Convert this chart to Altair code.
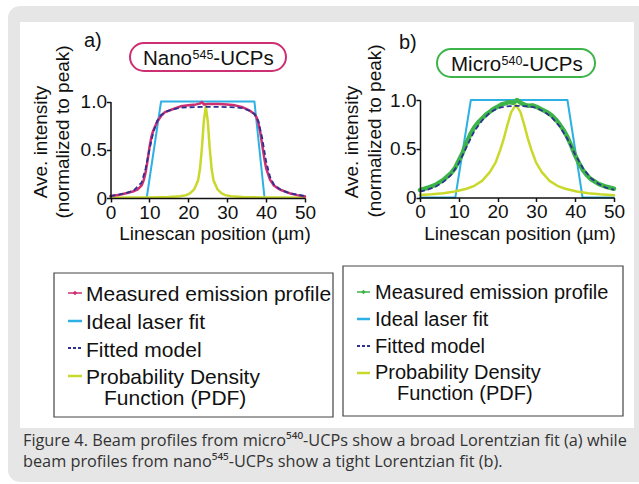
import altair as alt
import pandas as pd

# ---------------- data: panel a (Nano545-UCPs) ----------------
a_meas_x = [0, 2, 4, 6, 7, 8, 8.5, 9, 9.5, 10, 10.5, 11, 12, 13, 14, 16, 18, 20, 22, 23,
            23.5, 24, 25, 26, 28, 30, 32, 34, 35, 36, 37, 37.5, 38, 38.5, 39, 39.5, 40, 41, 42, 43,
            44, 46, 48, 50]
a_meas_y = [0.02, 0.03, 0.05, 0.07, 0.09, 0.13, 0.18, 0.26, 0.38, 0.52, 0.63, 0.70, 0.79, 0.85, 0.89, 0.92, 0.95, 0.96, 0.97, 0.98,
            0.995, 0.97, 0.975, 0.975, 0.975, 0.97, 0.96, 0.94, 0.92, 0.90, 0.87, 0.84, 0.78, 0.68, 0.55, 0.42, 0.31, 0.19, 0.13, 0.10,
            0.08, 0.05, 0.03, 0.015]
a_laser_x = [0, 9.3, 13, 37, 39.6, 50]
a_laser_y = [0, 0, 1, 1, 0, 0]
a_fit_x = [0, 4, 6, 8, 9, 10, 11, 12, 13, 14, 16, 18, 20, 24, 28, 32, 34, 36, 37, 38, 39, 40, 41, 42, 44, 46, 50]
a_fit_y = [0.02, 0.05, 0.08, 0.16, 0.30, 0.50, 0.68, 0.80, 0.86, 0.89, 0.92, 0.935, 0.94, 0.945, 0.945, 0.94, 0.93, 0.90, 0.87, 0.80,
           0.62, 0.38, 0.22, 0.14, 0.08, 0.05, 0.02]
a_pdf_x = [0, 5, 10, 15, 18, 19.5, 20.5, 21.5, 22.5, 23, 23.5, 24, 24.5, 25, 25.5, 26, 26.5, 27.5, 28.5, 29.5, 31, 34, 39, 44, 50]
a_pdf_y = [0.003, 0.004, 0.006, 0.01, 0.018, 0.03, 0.05, 0.09, 0.18, 0.30, 0.52, 0.80, 0.95, 0.80, 0.52, 0.30, 0.18, 0.09, 0.05, 0.03,
           0.018, 0.01, 0.006, 0.004, 0.003]

# ---------------- data: panel b (Micro540-UCPs) ----------------
b_meas_x = [0, 2, 4, 6, 8, 9, 10, 11, 12, 13, 14, 15, 16, 17, 18, 19, 20, 21, 22, 23,
            24, 25, 26, 27, 28, 29, 30, 31, 32, 33, 34, 35, 36, 37, 38, 39, 40, 41, 42, 43,
            44, 46, 48, 50]
b_meas_y = [0.075, 0.10, 0.13, 0.18, 0.25, 0.30, 0.38, 0.46, 0.56, 0.65, 0.72, 0.77, 0.81, 0.85, 0.88, 0.91, 0.93, 0.955, 0.965, 0.98,
            0.97, 1.0, 0.97, 0.95, 0.94, 0.945, 0.93, 0.91, 0.89, 0.87, 0.84, 0.80, 0.75, 0.69, 0.62, 0.53, 0.43, 0.35, 0.28, 0.23,
            0.19, 0.14, 0.11, 0.09]
b_laser_x = [0, 9.1, 13.1, 38, 41.9, 50]
b_laser_y = [0, 0, 1, 1, 0, 0]
b_fit_x = [0, 2, 4, 6, 8, 10, 12, 14, 16, 18, 20, 22, 25, 28, 30, 32, 34, 36, 38, 40, 42, 44, 46, 48, 50]
b_fit_y = [0.06, 0.08, 0.11, 0.16, 0.23, 0.35, 0.52, 0.68, 0.79, 0.87, 0.915, 0.935, 0.94, 0.935, 0.92, 0.88, 0.82, 0.73, 0.60, 0.44,
           0.30, 0.20, 0.14, 0.10, 0.08]
b_pdf_x = [0, 3, 6, 9, 12, 14, 16, 18, 19.5, 20.7, 21.5, 22.5, 23.5, 24.7, 25.9, 26.9, 27.9, 28.7, 29.9, 31.4,
           33.4, 35.4, 37.4, 40.4, 43.4, 46.4, 50]
b_pdf_y = [0.025, 0.033, 0.044, 0.061, 0.09, 0.12, 0.17, 0.26, 0.36, 0.49, 0.59, 0.74, 0.875, 0.95, 0.875, 0.74, 0.59, 0.49, 0.36, 0.26,
           0.17, 0.12, 0.09, 0.061, 0.044, 0.033, 0.024]

x_ticks = [0, 10, 20, 30, 40, 50]
y_ticks = [0, 0.5, 1.0]
legend_labels = ["Measured emission profile", "Ideal laser fit", "Fitted model", "Probability Density", "Function (PDF)"]
title_a = ["Nano", "545", "-UCPs"]
title_b = ["Micro", "540", "-UCPs"]
panel_a_tag = "a)"
panel_b_tag = "b)"
y_title = ["Ave. intensity", "(normalized to peak)"]
x_title = "Linescan position (\u00b5m)"
caption = ["Figure 4. Beam profiles from micro\u2075\u2074\u2070-UCPs show a broad Lorentzian fit (a) while",
           "beam profiles from nano\u2075\u2074\u2075-UCPs show a tight Lorentzian fit (b)."]

# ---------------- styling ----------------
W, H = 639, 484
FONT = "Liberation Sans"
MAGENTA = "#cc2f72"
GREEN = "#3cb44a"
CYAN = "#2db0e3"
NAVY = "#2e3192"
YELLOW = "#c9d92c"
GREY = "#e6e6e6"


def one():
    return pd.DataFrame({"k": [0]})


def rect(x, x2, y, y2, **kw):
    return alt.Chart(one()).mark_rect(**kw).encode(
        x=alt.value(x), x2=alt.value(x2), y=alt.value(y), y2=alt.value(y2))


def text(s, x, y, **kw):
    return alt.Chart(one()).mark_text(**kw).encode(
        x=alt.value(x), y=alt.value(y), text=alt.value(s))


def seg(x, x2, y, color, width=2.5, dash=None):
    kw = dict(color=color, strokeWidth=width)
    if dash:
        kw["strokeDash"] = dash
    return alt.Chart(one()).mark_rule(**kw).encode(x=alt.value(x), x2=alt.value(x2), y=alt.value(y))


def panel(series, xrange, yrange):
    xs = alt.Scale(domain=[0, 50], range=xrange, nice=False, zero=False)
    ys = alt.Scale(domain=[0, 1], range=yrange, nice=False, zero=False)
    xaxis = alt.Axis(orient="bottom", offset=yrange[0] - H, values=x_ticks, title=None, grid=False,
                     labelFont=FONT, labelFontSize=19, labelColor="#111", domainColor="#111",
                     domainWidth=1.5, tickColor="#111", tickWidth=1.5, tickSize=4, labelPadding=1,
                     labelFlush=False, labelOverlap=False, zindex=1)
    yaxis = alt.Axis(orient="left", offset=-xrange[0], values=y_ticks, title=None, grid=False,
                     labelExpr="datum.value == 0 ? '0' : format(datum.value, '.1f')",
                     labelFont=FONT, labelFontSize=19, labelColor="#111", domainColor="#111",
                     domainWidth=1.5, tickColor="#111", tickWidth=1.5, tickSize=4, labelPadding=0,
                     labelFlush=False, labelOverlap=False, zindex=1)
    layers = []
    for xs_, ys_, color, width, dash in series:
        df = pd.DataFrame({"x": xs_, "y": ys_})
        kw = dict(color=color, strokeWidth=width, strokeJoin="round", strokeCap="round")
        if dash:
            kw["strokeDash"] = dash
            kw["strokeCap"] = "butt"
        layers.append(alt.Chart(df).mark_line(**kw).encode(
            x=alt.X("x:Q", scale=xs, axis=xaxis),
            y=alt.Y("y:Q", scale=ys, axis=yaxis),
            order="x:Q"))
    return alt.layer(*layers)


panel_a = panel([
    (a_laser_x, a_laser_y, CYAN, 2, None),
    (a_pdf_x, a_pdf_y, YELLOW, 2.5, None),
    (a_meas_x, a_meas_y, MAGENTA, 2.5, None),
    (a_fit_x, a_fit_y, NAVY, 1.8, [5, 3]),
], [110.5, 305], [198, 101.5])

panel_b = panel([
    (b_laser_x, b_laser_y, CYAN, 2, None),
    (b_pdf_x, b_pdf_y, YELLOW, 2.5, None),
    (b_meas_x, b_meas_y, GREEN, 4.5, None),
    (b_fit_x, b_fit_y, NAVY, 1.8, [5, 3]),
], [420, 614], [197.5, 100])


def pill_title(parts, x0, base, w_main, w_sup):
    return [
        text(parts[0], x0, base, font=FONT, fontSize=20.5, color="#111", align="left", baseline="alphabetic"),
        text(parts[1], x0 + w_main, base - 6.5, font=FONT, fontSize=12.5, color="#111", align="left",
             baseline="alphabetic"),
        text(parts[2], x0 + w_main + w_sup, base, font=FONT, fontSize=20.5, color="#111", align="left",
             baseline="alphabetic"),
    ]


deco = [
    rect(8, W + 30, 6, 482, fill=GREY, cornerRadius=12),
    rect(20, 634, 22, 428, fill="white"),
    # title pills
    rect(130, 286, 43, 71, fill="white", stroke=MAGENTA, strokeWidth=2, cornerRadius=14),
    rect(437, 595, 49, 77, fill="white", stroke=GREEN, strokeWidth=2, cornerRadius=14),
    *pill_title(title_a, 143, 65, 49.5, 20.8),
    *pill_title(title_b, 451, 71, 50.5, 20.8),
    text(panel_a_tag, 84, 47, font=FONT, fontSize=20, color="#111", align="left", baseline="alphabetic"),
    text(panel_b_tag, 399, 49, font=FONT, fontSize=20, color="#111", align="left", baseline="alphabetic"),
    # axis titles
    text(y_title[0], 41, 142, font=FONT, fontSize=19, color="#111", angle=270, align="center", baseline="middle"),
    text(y_title[1], 63, 132, font=FONT, fontSize=19, color="#111", angle=270, align="center", baseline="middle"),
    text(y_title[0], 352, 142, font=FONT, fontSize=19, color="#111", angle=270, align="center", baseline="middle"),
    text(y_title[1], 375, 131, font=FONT, fontSize=19, color="#111", angle=270, align="center", baseline="middle"),
    text(x_title, 215, 240, font=FONT, fontSize=19, color="#111", align="center", baseline="alphabetic"),
    text(x_title, 520, 240, font=FONT, fontSize=19, color="#111", align="center", baseline="alphabetic"),
    # legend boxes
    rect(54, 333, 273, 417, fill="white", stroke="#444", strokeWidth=1.2),
    rect(343, 623, 266, 416, fill="white", stroke="#444", strokeWidth=1.2),
    # caption
    text(caption[0], 23, 446, font="Open Sans", fontSize=16.3, color="#333", align="left", baseline="alphabetic"),
    text(caption[1], 23, 467, font="Open Sans", fontSize=16.3, color="#333", align="left", baseline="alphabetic"),
]

# legend contents
leg = []
for (tx, fs, sx0, sx1, base, sym_y, x5, meas_color) in [
        (86, 21, 68, 82, [301, 329, 356.5, 384, 405], [293, 321, 348, 376], 104, MAGENTA),
        (375, 20, 357, 370, [299, 326, 353, 379, 400], [292, 319, 346, 373], 397, GREEN)]:
    for i, lab in enumerate(legend_labels):
        leg.append(text(lab, x5 if i == 4 else tx, base[i], font=FONT, fontSize=fs, color="#111",
                        align="left", baseline="alphabetic"))
    leg.append(seg(sx0, sx1, sym_y[0], meas_color, 1.5))
    leg.append(alt.Chart(one()).mark_point(shape="diamond", filled=True, size=22, color=meas_color, opacity=1)
               .encode(x=alt.value((sx0 + sx1) / 2), y=alt.value(sym_y[0])))
    leg.append(seg(sx0, sx1, sym_y[1], CYAN, 2.5))
    leg.append(seg(sx0, sx1, sym_y[2], NAVY, 2, [3, 2]))
    leg.append(seg(sx0, sx1, sym_y[3], YELLOW, 2.5))

chart = alt.layer(*deco, *leg, panel_a, panel_b).resolve_scale(
    x="independent", y="independent"
).properties(
    width=W, height=H, padding=0, autosize="none", background="white"
).configure_view(stroke=None)

chart.save("out.html", embed_options={"renderer": "svg", "actions": False})
